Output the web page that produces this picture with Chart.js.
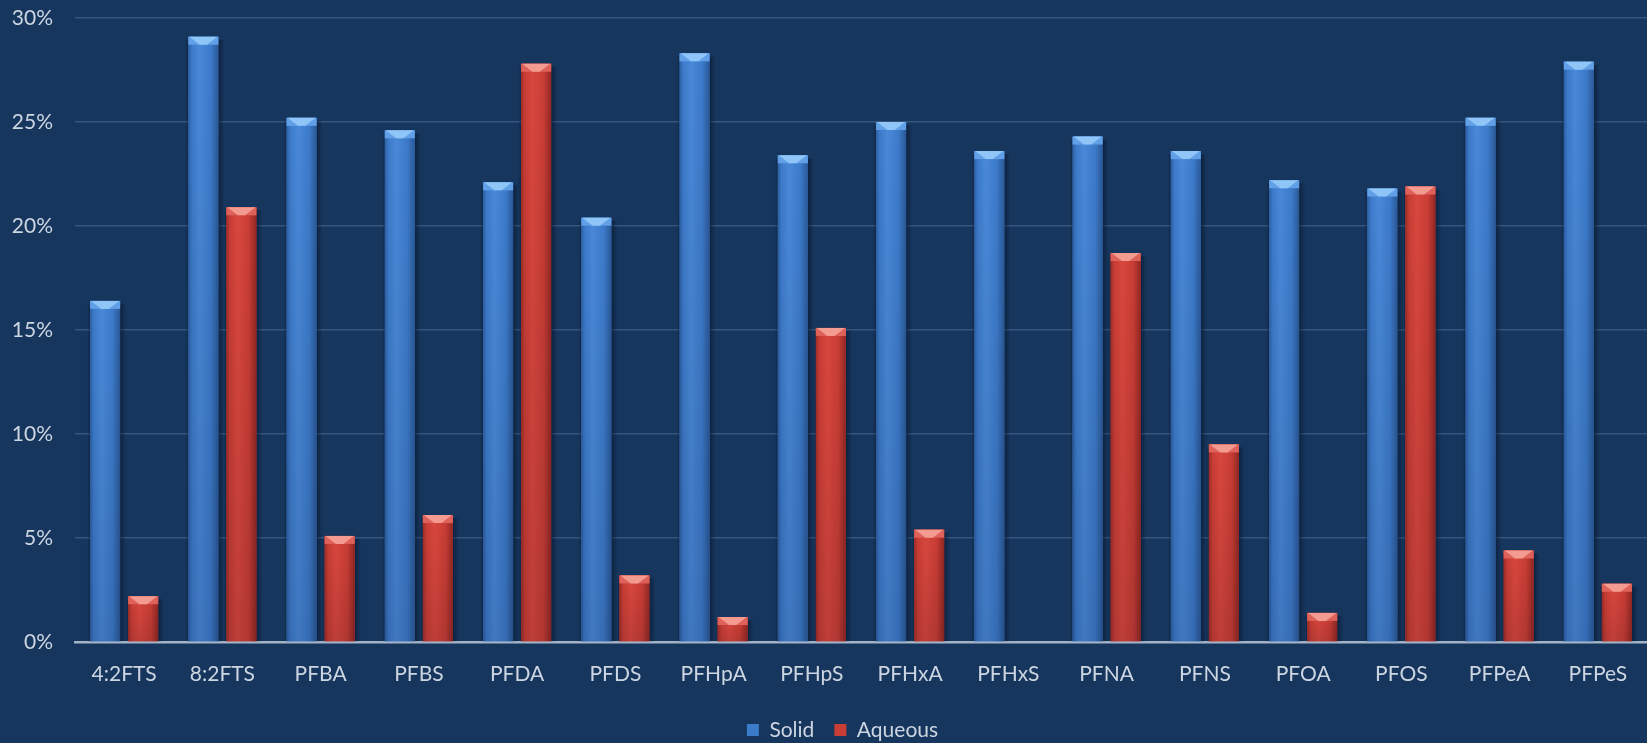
<!DOCTYPE html>
<html>
<head>
<meta charset="utf-8">
<script src="https://cdn.jsdelivr.net/npm/chart.js@4/dist/chart.umd.min.js"></script>
<style>
  html, body { margin: 0; padding: 0; background: #17365d; }
  #wrap { width: 1647px; height: 743px; position: relative; }
</style>
</head>
<body>
<div id="wrap"><canvas id="c"></canvas></div>
<script>
// Share of each PFAS compound found in the solid and aqueous phases (%)
const categories = ['4:2FTS', '8:2FTS', 'PFBA', 'PFBS', 'PFDA', 'PFDS', 'PFHpA', 'PFHpS',
                    'PFHxA', 'PFHxS', 'PFNA', 'PFNS', 'PFOA', 'PFOS', 'PFPeA', 'PFPeS'];
const solid   = [16.4, 29.1, 25.2, 24.6, 22.1, 20.4, 28.3, 23.4, 25.0, 23.6, 24.3, 23.6, 22.2, 21.8, 25.2, 27.9];
const aqueous = [2.2, 20.9, 5.1, 6.1, 27.8, 3.2, 1.2, 15.1, 5.4, null, 18.7, 9.5, 1.4, 21.9, 4.4, 2.8];
const yTicks  = [0, 5, 10, 15, 20, 25, 30];

const FONT = 'Lato, "Open Sans", sans-serif';
const TEXT = '#ccd5e2';

// Shading palettes for the two series
const shades = [
  { base: '#3c7aca', left: '#2d5fa2', mid: '#4989d8', right: '#2a5896', bevel: '#8fc5f7', side: '#61a0e6' },
  { base: '#c83d35', left: '#9e2c27', mid: '#d9473e', right: '#922723', bevel: '#f39b91', side: '#df625a' }
];

// Glassy gradient, soft side shadow and bevelled top painted on each bar the library lays out
const bevelBars = {
  id: 'bevelBars',
  afterLayout(chart) {
    // legend row sits a little lower and is centred under the plot area
    const lg = chart.legend;
    if (lg) {
      lg.top += 7.5; lg.bottom += 7.5;
      lg.left += 14; lg.right += 14;
    }
  },
  afterDatasetsDraw(chart) {
    const ctx = chart.ctx;
    chart.data.datasets.forEach((ds, di) => {
      const meta = chart.getDatasetMeta(di);
      if (meta.hidden) return;
      const s = shades[di];
      meta.data.forEach((bar, i) => {
        if (ds.data[i] == null) return;
        const p = bar.getProps(['x', 'y', 'base', 'width'], true);
        const l = p.x - p.width / 2, r = p.x + p.width / 2;
        const top = Math.min(p.y, p.base), bot = Math.max(p.y, p.base);
        if (bot - top < 1) return;
        ctx.save();
        // shadow to the right and left
        const sh = ctx.createLinearGradient(r, 0, r + 6, 0);
        sh.addColorStop(0, 'rgba(6,18,40,0.55)');
        sh.addColorStop(1, 'rgba(6,18,40,0)');
        ctx.fillStyle = sh;
        ctx.fillRect(r, top + 3, 6, bot - top - 3);
        const sl = ctx.createLinearGradient(l - 3, 0, l, 0);
        sl.addColorStop(0, 'rgba(6,18,40,0)');
        sl.addColorStop(1, 'rgba(6,18,40,0.35)');
        ctx.fillStyle = sl;
        ctx.fillRect(l - 3, top + 3, 3, bot - top - 3);
        // body
        const g = ctx.createLinearGradient(l, 0, r, 0);
        g.addColorStop(0, s.left);
        g.addColorStop(0.12, s.base);
        g.addColorStop(0.38, s.mid);
        g.addColorStop(0.75, s.base);
        g.addColorStop(1, s.right);
        ctx.fillStyle = g;
        ctx.fillRect(l, top, r - l, bot - top);
        const v = ctx.createLinearGradient(0, top, 0, bot);
        v.addColorStop(0, 'rgba(0,0,0,0)');
        v.addColorStop(1, 'rgba(0,0,20,0.12)');
        ctx.fillStyle = v;
        ctx.fillRect(l, top, r - l, bot - top);
        // bevelled top face
        const d = Math.min(8, bot - top);
        ctx.fillStyle = s.side;
        ctx.fillRect(l, top, r - l, d);
        ctx.beginPath();
        ctx.moveTo(l + 1, top);
        ctx.lineTo(r - 1, top);
        ctx.lineTo(p.x + p.width * 0.12, top + d);
        ctx.lineTo(p.x - p.width * 0.12, top + d);
        ctx.closePath();
        ctx.fillStyle = s.bevel;
        ctx.fill();
        ctx.restore();
      });
    });
  }
};

new Chart(document.getElementById('c'), {
  type: 'bar',
  data: {
    labels: categories,
    datasets: [
      { label: 'Solid', data: solid, backgroundColor: shades[0].base, borderWidth: 0,
        barPercentage: 0.79, categoryPercentage: 0.775 },
      { label: 'Aqueous', data: aqueous, backgroundColor: shades[1].base, borderWidth: 0,
        barPercentage: 0.79, categoryPercentage: 0.775 }
    ]
  },
  options: {
    responsive: true,
    maintainAspectRatio: false,
    animation: false,
    layout: { padding: { top: 18, right: 0, bottom: 0, left: 10 } },
    plugins: {
      legend: {
        position: 'bottom',
        labels: {
          color: TEXT,
          font: { family: FONT, size: 21 },
          boxWidth: 12, boxHeight: 12, padding: 20
        }
      },
      tooltip: { enabled: false }
    },
    scales: {
      x: {
        grid: { display: false },
        border: { display: true, color: '#a4b4c7', width: 2.5 },
        ticks: { color: TEXT, font: { family: FONT, size: 21 }, padding: 12, maxRotation: 0 },
        afterFit(scale) { scale.height = 50; }
      },
      y: {
        min: 0, max: 30,
        afterBuildTicks(scale) { scale.ticks = yTicks.map(v => ({ value: v })); },
        grid: { color: '#35557f', lineWidth: 1.5, drawTicks: false },
        border: { display: false },
        ticks: {
          color: TEXT, font: { family: FONT, size: 21 }, padding: 22,
          callback: v => v + '%'
        },
        afterFit(scale) { scale.width = 65; scale.paddingTop = 0; scale.paddingBottom = 0; }
      }
    }
  },
  plugins: [bevelBars]
});
</script>
</body>
</html>
